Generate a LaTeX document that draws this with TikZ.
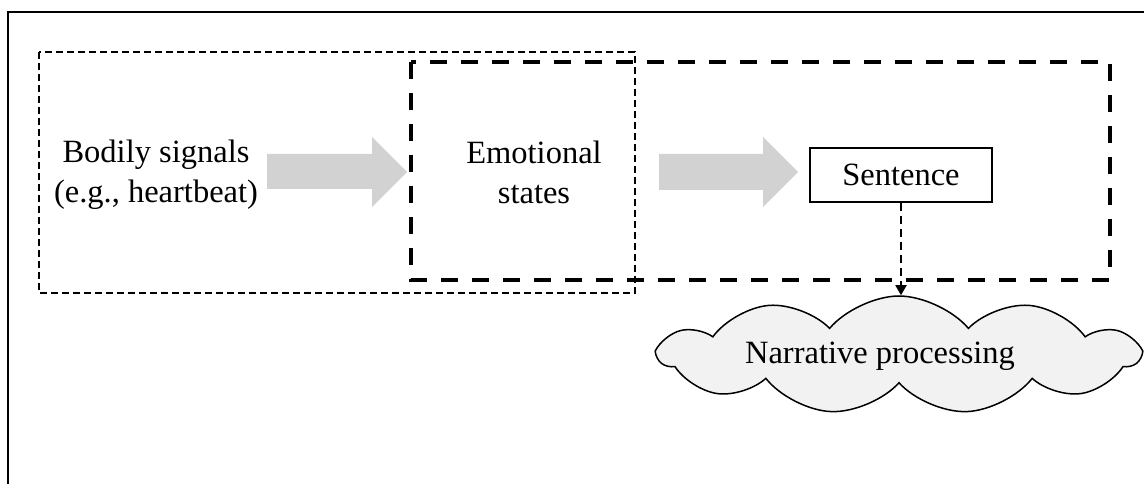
\documentclass[tikz,border=0pt]{standalone}
\usepackage{fontspec}
\setmainfont{Liberation Serif}
\usetikzlibrary{positioning,shapes.symbols,arrows.meta}

\begin{document}
\begin{tikzpicture}[x=1pt, y=-1pt,
    txt/.style={align=center, inner sep=0pt, font=\fontsize{32.5}{40}\selectfont},
    thinbox/.style={draw, line width=1.3pt, dash pattern=on 7pt off 4pt},
    thickbox/.style={draw, line width=4pt, dash pattern=on 17pt off 14pt},
    bigarrow/.style={fill=gray!35}]
    \useasboundingbox (0,0) rectangle (1144,484);
    \clip (0,0) rectangle (1144,484);
    \draw[line width=2pt] (8,12) rectangle (1180,520);

    \draw[thinbox] (39,52) rectangle (635,293);
    \draw[thickbox] (411,62) rectangle (1110,280);

    \node[txt] (body) at (156,175) {Bodily signals\\(e.g., heartbeat)};
    \node[txt] (emo) at (534,172) {Emotional\\states};
    \node[txt, draw, line width=1.5pt, minimum width=182, minimum height=54] (sent) at (901,175) {Sentence};
    \node[cloud, cloud ignores aspect, draw, line width=1.5pt, fill=gray!10, cloud puffs=11, cloud puff arc=100,
        minimum width=480, minimum height=118] (narr) at (899,355) {};
    \node[txt] (narrtxt) at (880,356) {Narrative processing};

    \fill[bigarrow] (267,154) -- (372,154) -- (372,137) -- (407,172) -- (372,207) -- (372,189) -- (267,189) -- cycle;
    \fill[bigarrow] (659,154) -- (763,154) -- (763,137) -- (798,172) -- (763,207) -- (763,190) -- (659,190) -- cycle;

    \draw[line width=1.8pt, dash pattern=on 8pt off 5pt, -{Triangle[length=10pt, width=11pt]}]
        (sent.south) -- (sent.south |- narr.north);
\end{tikzpicture}
\end{document}
